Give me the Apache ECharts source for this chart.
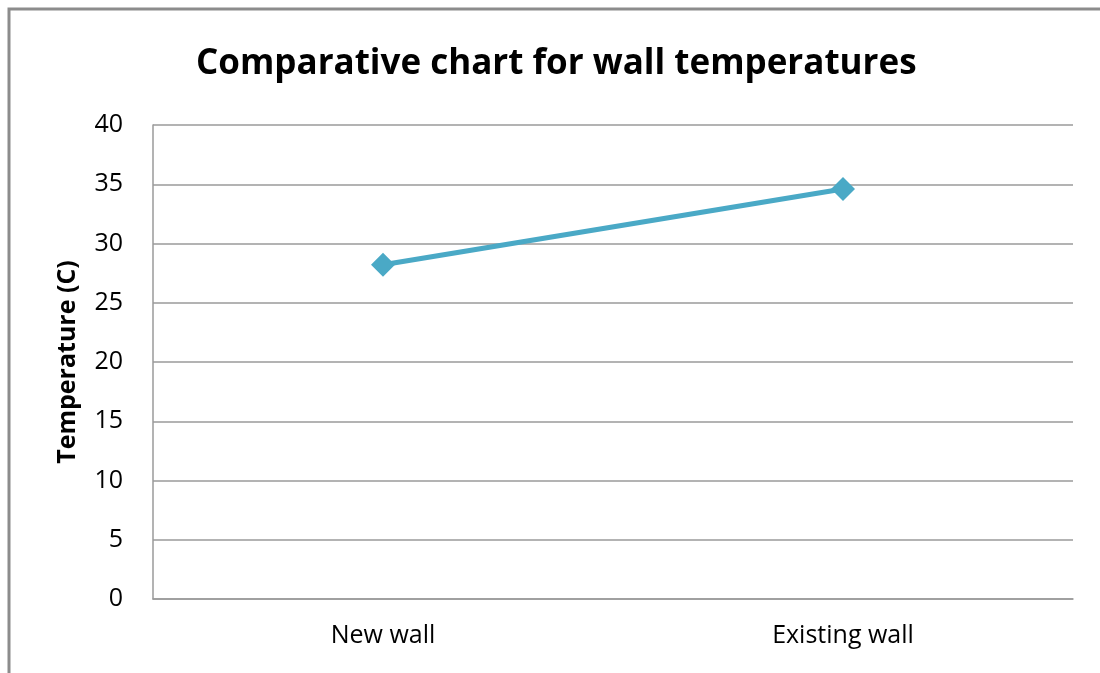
<!DOCTYPE html>
<html>
<head>
<meta charset="utf-8">
<script src="https://cdn.jsdelivr.net/npm/echarts@6/dist/echarts.min.js"></script>
<style>
    html, body { margin: 0; padding: 0; background: #fff; }
    #chart { width: 1100px; height: 673px; }
</style>
</head>
<body>
<div id="chart"></div>
<script>
const categories = ['New wall', 'Existing wall'];
const temperatures = [28.2, 34.6];
const yTicks = { min: 0, max: 40, interval: 5 };

const chart = echarts.init(document.getElementById('chart'));
chart.setOption({
    backgroundColor: '#fff',
    animation: false,
    title: {
        text: 'Comparative chart for wall temperatures',
        left: 191,
        top: 42,
        textStyle: {
            fontFamily: 'Open Sans',
            fontSize: 35,
            fontWeight: 'bold',
            color: '#000'
        }
    },
    graphic: [{
        type: 'rect',
        shape: { x: 9, y: 9, width: 1200, height: 800 },
        style: { fill: 'none', stroke: '#8c8c8c', lineWidth: 3 },
        silent: true,
        z: -1
    }],
    grid: {
        left: 153,
        right: 27,
        top: 125,
        bottom: 74
    },
    xAxis: {
        type: 'category',
        data: categories,
        boundaryGap: true,
        axisTick: { show: false },
        axisLine: { lineStyle: { color: '#9a9a9a', width: 1.5 } },
        axisLabel: {
            margin: 24,
            fontFamily: 'Open Sans',
            fontSize: 25,
            color: '#000'
        }
    },
    yAxis: {
        type: 'value',
        min: yTicks.min,
        max: yTicks.max,
        interval: yTicks.interval,
        name: 'Temperature (C)',
        nameLocation: 'middle',
        nameGap: 73,
        nameTextStyle: {
            fontFamily: 'Open Sans',
            fontSize: 25,
            fontWeight: 'bold',
            color: '#000'
        },
        axisLine: { show: true, lineStyle: { color: '#9a9a9a', width: 1.5 } },
        axisTick: { show: false },
        axisLabel: {
            margin: 30,
            fontFamily: 'Open Sans',
            fontSize: 25,
            color: '#000'
        },
        splitLine: { lineStyle: { color: '#9a9a9a', width: 1.5 } }
    },
    series: [{
        type: 'line',
        data: temperatures,
        symbol: 'diamond',
        symbolSize: 24,
        lineStyle: { color: '#4aa9c6', width: 5 },
        itemStyle: { color: '#4aa9c6' }
    }]
});
</script>
</body>
</html>
